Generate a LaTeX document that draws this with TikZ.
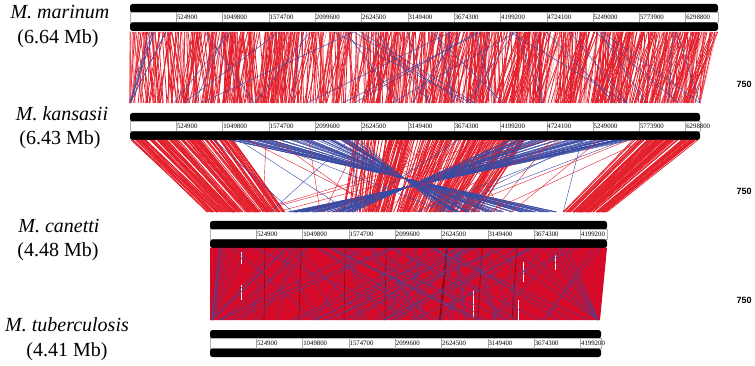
\documentclass[tikz,border=0pt]{standalone}
\usepackage{fontspec}
\setmainfont{Liberation Serif}
\newfontfamily\scorefont{Liberation Sans}
\usetikzlibrary{positioning}
\definecolor{hitred}{HTML}{E3202C}
\definecolor{palered}{HTML}{F07A80}
\definecolor{invblue}{HTML}{3B4BA3}
\definecolor{deepred}{HTML}{D40A28}
\definecolor{darkred}{HTML}{7E0A18}
\definecolor{mauve}{HTML}{56408F}

\begin{document}
\begin{tikzpicture}[x=1pt,y=-1pt,
    bar/.style={fill=black,rounded corners=2.5pt},
    ruler/.style={draw=gray!60,fill=white,line width=0.4pt},
    tickline/.style={gray!70,line width=0.4pt},
    ticklabel/.style={font=\fontsize{6.8}{7}\selectfont,anchor=west,inner sep=0.5pt},
    species/.style={font=\fontsize{20}{22}\selectfont\itshape,inner sep=0pt},
    gsize/.style={font=\fontsize{20}{22}\selectfont,inner sep=0pt},
    score/.style={font=\scorefont\bfseries\fontsize{9}{10}\selectfont,inner sep=0pt},
    redhit/.style={hitred,line width=0.8pt},
    palehit/.style={palered,line width=0.4pt},
    bluehit/.style={invblue,line width=0.45pt},
    purplehit/.style={mauve,line width=0.5pt}]
  \useasboundingbox (0,0) rectangle (755,366);

  % species labels
  \node[species] (marinum) at (60,12) {M. marinum};
  \node[gsize] (marinumsize) at (58,39) {(6.64 Mb)};
  \node[species] (kansasii) at (62,114) {M. kansasii};
  \node[gsize] (kansasiisize) at (60,140) {(6.43 Mb)};
  \node[species] (canetti) at (59,226) {M. canetti};
  \node[gsize] (canettisize) at (58,252) {(4.48 Mb)};
  \node[species] (tuberculosis) at (67,325) {M. tuberculosis};
  \node[gsize] (tuberculosissize) at (67,352) {(4.41 Mb)};

  % genome tracks: bar, ruler, bar
  \foreach \y/\xa/\xb/\nt in {4/130/718/12, 113/130/700/12, 221/210/607/8, 330/210/601/8}{
    \fill[bar] (\xa,\y) rectangle (\xb,\y+8.5);
    \filldraw[ruler] (\xa,\y+8.5) rectangle (\xb,\y+18.5);
    \fill[bar] (\xa,\y+18.5) rectangle (\xb,\y+27);
    \foreach \lab [count=\k] in {524900,1049800,1574700,2099600,2624500,3149400,
                                 3674300,4199200,4724100,5249000,5773900,6298800}{
      \ifnum\k>\nt\else
        \draw[tickline] (\xa+\k*46.3,\y+8.5) -- (\xa+\k*46.3,\y+18.5);
        \node[ticklabel] at (\xa+\k*46.3,\y+13.5) {\lab};
      \fi
    }
  }

  % marinum vs kansasii
  \pgfmathsetseed{17}
  \foreach \i in {1,...,700}{
    \pgfmathsetmacro\pt{rnd}
    \pgfmathsetmacro\xbot{max(130,min(700,130+570*\pt+30*(rnd-0.5)))}
    \draw[redhit] (130+588*\pt,32) -- (\xbot,103);
  }
  \foreach \i in {1,...,90}{
    \pgfmathsetmacro\pt{rnd}
    \draw[palehit] (130+588*\pt,32) -- ({max(130,min(700,130+570*\pt+20*(rnd-0.5)))},103);
  }
  \foreach \i in {1,...,40}{
    \pgfmathsetmacro\pt{rnd}
    \draw[bluehit] (140+560*\pt,32) -- ({max(130,min(700,135+560*\pt+300*(rnd-0.5)))},103);
  }

  % kansasii vs canetti
  \foreach \i in {1,...,130}{
    \pgfmathsetmacro\pt{rnd}
    \draw[redhit] (130+103*\pt,140) -- ({208+75*\pt+6*(rnd-0.5)},212);
  }
  \foreach \i in {1,...,180}{
    \pgfmathsetmacro\pt{rnd}
    \draw[redhit] (355+170*\pt,140) -- ({347+128*\pt+14*(rnd-0.5)},212);
  }
  \foreach \i in {1,...,90}{
    \pgfmathsetmacro\pt{rnd}
    \draw[redhit] (633+65*\pt,140) -- (563+44*\pt,212);
  }
  \foreach \i in {1,...,75}{
    \pgfmathsetmacro\pt{rnd}
    \draw[bluehit] (230+130*\pt,140) -- (557-114*\pt,212);
    \draw[bluehit] (510+123*\pt,140) -- (353-66*\pt,212);
  }
  \foreach \i in {1,...,22}{
    \draw[palehit,hitred] ({200+450*rnd},140) -- ({250+330*rnd},212);
  }
  \foreach \i in {1,...,10}{
    \draw[bluehit,line width=0.4pt] ({180+450*rnd},140) -- ({250+320*rnd},212);
  }

  % canetti vs tuberculosis
  \fill[deepred] (210,248) -- (607,248) -- (600,320) -- (210,320) -- cycle;
  \foreach \xt/\xbt/\w in {265/264/0.6, 301/299/0.6, 345/344/0.6, 386/385/0.6, 447/440/2, 482/478/0.6, 517/512/0.8}{
    \draw[darkred,line width=\w pt] (\xt,248) -- (\xbt,320);
  }
  \foreach \xt/\ya/\yb in {241/252/264, 241/285/300, 523/262/282, 518/300/320, 473/290/318, 555/255/270}{
    \draw[white,line width=0.6pt] (\xt,\ya) -- (\xt,\yb);
  }
  \foreach \i in {1,...,85}{
    \pgfmathsetmacro\pt{rnd}
    \draw[purplehit] (215+385*\pt,248) -- ({max(212,min(598,215+385*\pt+360*(rnd-0.5)))},320);
  }

  % scores
  \node[score] (score1) at (744,84) {750};
  \node[score] (score2) at (744,191) {750};
  \node[score] (score3) at (744,300) {750};
\end{tikzpicture}
\end{document}
